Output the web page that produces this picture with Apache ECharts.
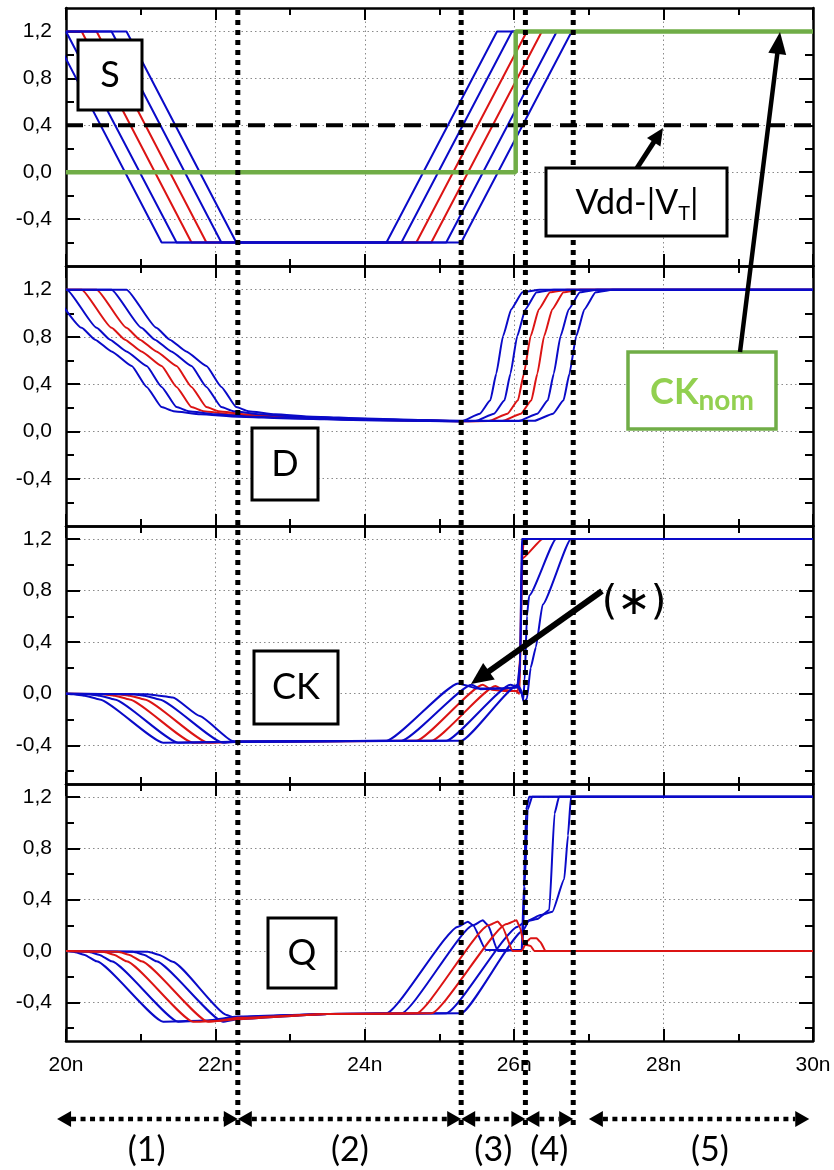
<!DOCTYPE html>
<html><head><meta charset="utf-8">
<script src="https://cdn.jsdelivr.net/npm/echarts@6/dist/echarts.min.js"></script>
<style>html,body{margin:0;padding:0;background:#fff}#c{width:834px;height:1170px}</style>
</head><body><div id="c"></div>
<script>
// ---------- data (time in ns, voltage in V) ----------
const S0 = [[19.81,1.2],[21.28,-0.6],[24.29,-0.6],[25.77,1.2],[30,1.2]];
const S1 = [[20,1.2],[20.01,1.2],[21.48,-0.6],[24.49,-0.6],[25.97,1.2],[30,1.2]];
const S2 = [[20,1.2],[20.21,1.2],[21.68,-0.6],[24.69,-0.6],[26.17,1.2],[30,1.2]];
const S3 = [[20,1.2],[20.41,1.2],[21.88,-0.6],[24.89,-0.6],[26.37,1.2],[30,1.2]];
const S4 = [[20,1.2],[20.61,1.2],[22.08,-0.6],[25.09,-0.6],[26.57,1.2],[30,1.2]];
const S5 = [[20,1.2],[20.81,1.2],[22.28,-0.6],[25.29,-0.6],[26.77,1.2],[30,1.2]];
const vddMinusVt = [[20,0.4],[30,0.4]];
const ckNom = [[20,0],[26.02,0],[26.02,1.2],[30,1.2]];

const D0 = [[19.81,1.2],[20.21,0.877],[20.39,0.777],[20.61,0.677],[20.88,0.554],[21.08,0.377],[21.28,0.206],[21.44,0.171],[21.8,0.145],[22.3,0.125],[23,0.11],[24,0.095],[25.29,0.085],[25.54,0.15],[25.68,0.263],[25.76,0.49],[25.85,0.806],[25.96,1.034],[26.11,1.177],[26.34,1.2],[30,1.2]];
const D1 = [[20,1.2],[20.01,1.2],[20.41,0.877],[20.59,0.777],[20.81,0.677],[21.08,0.554],[21.28,0.377],[21.48,0.206],[21.64,0.171],[22.0,0.145],[22.5,0.125],[23.2,0.11],[24,0.097],[25.29,0.086],[25.48,0.088],[25.73,0.15],[25.87,0.263],[25.95,0.49],[26.04,0.806],[26.15,1.034],[26.30,1.177],[26.53,1.2],[30,1.2]];
const D2 = [[20,1.2],[20.21,1.2],[20.61,0.877],[20.79,0.777],[21.01,0.677],[21.28,0.554],[21.48,0.377],[21.68,0.206],[21.84,0.171],[22.2,0.145],[22.7,0.125],[23.4,0.11],[24.2,0.097],[25.29,0.086],[25.66,0.088],[25.91,0.15],[26.05,0.263],[26.13,0.49],[26.22,0.806],[26.33,1.034],[26.48,1.177],[26.71,1.2],[30,1.2]];
const D3 = [[20,1.2],[20.41,1.2],[20.81,0.877],[20.99,0.777],[21.21,0.677],[21.48,0.554],[21.68,0.377],[21.88,0.206],[22.04,0.171],[22.4,0.145],[22.9,0.125],[23.6,0.11],[24.4,0.097],[25.29,0.087],[25.84,0.088],[26.09,0.15],[26.23,0.263],[26.31,0.49],[26.40,0.806],[26.51,1.034],[26.66,1.177],[26.89,1.2],[30,1.2]];
const D4 = [[20,1.2],[20.61,1.2],[21.01,0.877],[21.19,0.777],[21.41,0.677],[21.68,0.554],[21.88,0.377],[22.08,0.206],[22.24,0.171],[22.6,0.145],[23.1,0.125],[23.8,0.11],[24.6,0.097],[25.29,0.088],[26.06,0.089],[26.31,0.15],[26.45,0.263],[26.53,0.49],[26.62,0.806],[26.73,1.034],[26.88,1.177],[27.11,1.2],[30,1.2]];
const D5 = [[20,1.2],[20.81,1.2],[21.21,0.877],[21.39,0.777],[21.61,0.677],[21.88,0.554],[22.08,0.377],[22.28,0.206],[22.44,0.171],[22.8,0.145],[23.3,0.125],[24.0,0.11],[24.8,0.097],[25.29,0.09],[26.27,0.09],[26.52,0.15],[26.66,0.263],[26.74,0.49],[26.83,0.806],[26.94,1.034],[27.09,1.177],[27.32,1.2],[30,1.2]];

const CK0 = [[20,0],[20.1,-0.004],[20.25,-0.015],[20.45,-0.045],[21.30,-0.38],[22.3,-0.372],[24.29,-0.365],[25.25,0.08],[25.32,0.07],[25.5,0.04],[25.8,0.04],[26.05,0.05],[26.08,0.2],[26.1,1.2],[30,1.2]];
const CK1 = [[20,0],[20.3,-0.004],[20.45,-0.015],[20.65,-0.045],[21.50,-0.38],[22.3,-0.372],[24.49,-0.365],[25.43,0.07],[25.55,0.035],[25.8,0.04],[26.04,0.05],[26.08,0.25],[26.11,1.2],[30,1.2]];
const CK2 = [[20,0],[20.5,-0.004],[20.65,-0.015],[20.85,-0.045],[21.70,-0.38],[22.3,-0.372],[24.69,-0.365],[25.58,0.07],[25.7,0.03],[25.9,0.02],[26.05,0.02],[26.08,0.3],[26.1,1.0],[26.13,1.2],[30,1.2]];
const CK3 = [[20,0],[20.7,-0.004],[20.85,-0.015],[21.05,-0.045],[21.90,-0.38],[22.3,-0.372],[24.89,-0.365],[25.75,0.06],[25.85,0.03],[26.02,0.02],[26.07,0.0],[26.09,0.5],[26.11,1.05],[26.38,1.2],[30,1.2]];
const CK4 = [[20,0],[20.9,-0.004],[21.05,-0.015],[21.25,-0.045],[22.10,-0.38],[22.3,-0.372],[25.09,-0.365],[25.95,0.07],[26.05,0.05],[26.1,0.0],[26.12,-0.05],[26.14,0.1],[26.17,0.6],[26.2,0.76],[26.56,1.2],[30,1.2]];
const CK5 = [[20,0],[21.1,-0.004],[21.25,-0.015],[21.43,-0.03],[21.79,-0.173],[22.23,-0.366],[22.3,-0.37],[25.29,-0.365],[26.05,0.07],[26.1,0.02],[26.13,-0.07],[26.17,-0.04],[26.22,0.2],[26.29,0.36],[26.38,0.69],[26.76,1.2],[30,1.2]];

const Q0 = [[20,0],[20.1,-0.005],[20.25,-0.03],[20.41,-0.08],[21.30,-0.55],[21.9,-0.54],[22.3,-0.51],[23.5,-0.49],[24.29,-0.484],[25.25,0.19],[25.38,0.228],[25.45,0.2],[25.62,0.008],[26.1,0.01],[26.13,0.5],[26.16,1.1],[26.2,1.2],[30,1.2]];
const Q1 = [[20,0],[20.3,-0.005],[20.45,-0.03],[20.61,-0.08],[21.50,-0.55],[22.0,-0.54],[22.3,-0.515],[23.5,-0.49],[24.49,-0.484],[25.45,0.2],[25.58,0.24],[25.65,0.2],[25.78,0.0],[26.11,0.01],[26.14,0.5],[26.18,1.1],[26.24,1.2],[30,1.2]];
const Q2 = [[20,0],[20.5,-0.005],[20.65,-0.03],[20.81,-0.08],[21.70,-0.55],[22.0,-0.545],[22.3,-0.52],[23.5,-0.49],[24.69,-0.484],[25.66,0.2],[25.78,0.23],[25.84,0.19],[25.98,0.0],[26.1,0.0],[26.15,0.05],[26.22,0.04],[26.27,0.0],[30,0]];
const Q3 = [[20,0],[20.7,-0.005],[20.85,-0.03],[21.01,-0.08],[21.90,-0.55],[22.3,-0.53],[23.5,-0.49],[24.89,-0.484],[25.9,0.21],[26.03,0.24],[26.08,0.18],[26.13,0.05],[26.18,0.08],[26.22,0.1],[26.3,0.1],[26.35,0.07],[26.42,0.0],[30,0]];
const Q4 = [[20,0],[20.9,-0.005],[21.05,-0.03],[21.21,-0.08],[22.10,-0.55],[22.3,-0.53],[23.5,-0.49],[25.09,-0.484],[26.05,0.19],[26.15,0.23],[26.31,0.25],[26.47,0.32],[26.54,1.07],[26.6,1.2],[30,1.2]];
const Q5 = [[20,0],[21.1,-0.005],[21.25,-0.03],[21.43,-0.083],[22.15,-0.497],[22.24,-0.515],[22.3,-0.515],[23.5,-0.49],[25.29,-0.484],[26.12,0.16],[26.2,0.24],[26.35,0.28],[26.51,0.305],[26.67,0.56],[26.72,0.9],[26.76,1.2],[30,1.2]];

const panelNames = ['S','D','CK','Q'];
const panelCurves = [[S0,S1,S2,S3,S4,S5],[D0,D1,D2,D3,D4,D5],[CK0,CK1,CK2,CK3,CK4,CK5],[Q0,Q1,Q2,Q3,Q4,Q5]];
const curveKinds = ['blue','blue','red','red','blue','blue'];
const panelRanges = [[-0.8,1.4],[-0.8,1.4],[-0.7,1.3],[-0.7,1.3]];
const yMajorTicks = [-0.4,0,0.4,0.8,1.2];
const yMinorTicks = [-0.6,-0.2,0.2,0.6,1.0];
const xRange = [20,30];
const xStep = 2;
const phaseBounds = [22.3,25.29,26.15,26.79];
const phaseArrows = [[19.88,22.3],[22.3,25.29],[25.29,26.15],[26.15,26.79],[27.0,29.95]];
const phaseLabels = ['(1)','(2)','(3)','(4)','(5)'];
const phaseLabelAt = [21.08,23.8,25.72,26.47,28.62];

// ---------- styles ----------
const COL = {blue:'#0a0ac8', red:'#dc1414', green:'#70ad47', greenText:'#92d050', grid:'#8a8a8a'};
const grids = [{top:8,height:258},{top:266,height:260},{top:526,height:258},{top:784,height:257}];
const LEFT = 66, RIGHT = 21;
const ANN_FONT = 'Lato, "Open Sans", sans-serif';
const TICK_FONT = '"Liberation Sans", Arial, sans-serif';

const chart = echarts.init(document.getElementById('c'), null, {renderer:'canvas'});

const fmtY = v => (Math.abs(v) < 1e-9 ? 0 : v).toFixed(1).replace('.', ',');
const xAxes = [], yAxes = [], series = [];
grids.forEach((g, i) => {
  const base = {
    gridIndex: i, type: 'value', min: xRange[0], max: xRange[1], interval: xStep,
    axisLine: {show: true, onZero: false, lineStyle: {color: '#000', width: 2.5}},
    axisTick: {show: true, inside: true, length: 12, lineStyle: {color: '#000', width: 2}},
    minorTick: {show: true, splitNumber: 2, length: 7, lineStyle: {color: '#000', width: 2}},
  };
  xAxes.push(Object.assign({}, base, {
    position: 'bottom',
    axisLabel: {show: i === 3, formatter: v => v + 'n', fontSize: 21, fontFamily: TICK_FONT, color: '#000', margin: 14},
    splitLine: {show: true, lineStyle: {color: COL.grid, width: 1, type: [1.5, 3]}}
  }));
  xAxes.push(Object.assign({}, base, {position: 'top', axisLabel: {show: false}, splitLine: {show: false}}));
  const [mn, mx] = panelRanges[i];
  const yb = {gridIndex: i, type: 'value', min: mn, max: mx};
  yAxes.push(Object.assign({}, yb, {
    position: 'left',
    axisLine: {show: true, onZero: false, lineStyle: {color: '#000', width: 2.5}},
    axisTick: {show: true, inside: true, length: 14, customValues: yMajorTicks, lineStyle: {color: '#000', width: 2}},
    axisLabel: {show: true, customValues: yMajorTicks, formatter: fmtY, fontSize: 21, fontFamily: TICK_FONT, color: '#000', margin: 14},
    splitLine: {show: true, lineStyle: {color: COL.grid, width: 1, type: [1.5, 3]}}
  }));
  yAxes.push(Object.assign({}, yb, {
    position: 'left',
    axisLine: {show: false},
    axisTick: {show: true, inside: true, length: 8, customValues: yMinorTicks, lineStyle: {color: '#000', width: 2}},
    axisLabel: {show: false}, splitLine: {show: false}
  }));
  yAxes.push(Object.assign({}, yb, {
    position: 'right',
    axisLine: {show: true, onZero: false, lineStyle: {color: '#000', width: 2.5}},
    axisTick: {show: true, inside: true, length: 14, customValues: yMajorTicks, lineStyle: {color: '#000', width: 2}},
    axisLabel: {show: false}, splitLine: {show: false}
  }));
  yAxes.push(Object.assign({}, yb, {
    position: 'right',
    axisLine: {show: false},
    axisTick: {show: true, inside: true, length: 8, customValues: yMinorTicks, lineStyle: {color: '#000', width: 2}},
    axisLabel: {show: false}, splitLine: {show: false}
  }));
  panelCurves[i].forEach((data, k) => {
    // in the Q panel the red traces stay low and sit on top; elsewhere the blue traces are drawn last
    const onTop = (i === 3) ? curveKinds[k] === 'red' : curveKinds[k] === 'blue';
    series.push({
      type: 'line', name: panelNames[i] + k, xAxisIndex: 2 * i, yAxisIndex: 4 * i, data,
      showSymbol: false, symbol: 'none', silent: true,
      smooth: i === 0 ? false : 0.15, smoothMonotone: 'x',
      lineStyle: {color: COL[curveKinds[k]], width: 2},
      z: onTop ? 4 : 3
    });
  });
});
series.push({type: 'line', name: 'Vdd-|VT|', xAxisIndex: 0, yAxisIndex: 0, data: vddMinusVt, showSymbol: false, symbol: 'none', silent: true,
  lineStyle: {color: '#000', width: 4, type: [17, 9]}, z: 6});
series.push({type: 'line', name: 'CKnom', xAxisIndex: 0, yAxisIndex: 0, data: ckNom, showSymbol: false, symbol: 'none', silent: true,
  lineStyle: {color: COL.green, width: 4.5}, z: 7});

chart.setOption({
  animation: false,
  backgroundColor: '#fff',
  grid: grids.map(g => ({left: LEFT, right: RIGHT, top: g.top, height: g.height, show: false})),
  xAxis: xAxes, yAxis: yAxes, series
});

// ---------- annotations ----------
const px = v => chart.convertToPixel({xAxisIndex: 6}, v);
const gfx = [];
function arrow(x1, y1, x2, y2, w, head, hw, z) {
  const dx = x2 - x1, dy = y2 - y1, L = Math.hypot(dx, dy), ux = dx / L, uy = dy / L;
  const bx = x2 - ux * head, by = y2 - uy * head;
  gfx.push({type: 'line', z: z, shape: {x1, y1, x2: bx + ux * 1, y2: by + uy * 1}, style: {stroke: '#000', lineWidth: w}});
  gfx.push({type: 'polygon', z: z, shape: {points: [[x2, y2], [bx - uy * hw, by + ux * hw], [bx + uy * hw, by - ux * hw]]}, style: {fill: '#000'}});
}
function textEl(x, y, text, size, family) {
  return {type: 'text', z: 120, style: {text, x, y, font: size + 'px ' + (family || ANN_FONT), fill: '#000',
    align: 'center', verticalAlign: 'middle', textAlign: 'center', textVerticalAlign: 'middle'}};
}
function box(x, y, w, h, text, size, stroke, strokeW) {
  gfx.push({type: 'rect', z: 110, shape: {x, y, width: w, height: h}, style: {fill: '#fff', stroke: stroke || '#000', lineWidth: strokeW || 3}});
  if (text) gfx.push(textEl(x + w / 2, y + h / 2, text, size));
}
// vertical phase boundaries (dotted black)
phaseBounds.forEach(b => {
  const x = px(b);
  gfx.push({type: 'line', z: 50, shape: {x1: x, y1: 10, x2: x, y2: 1130}, style: {stroke: '#000', lineWidth: 5, lineDash: [5, 5]}});
});
// phase arrows along the bottom
const AY = 1119;
phaseArrows.forEach(([a, b], i) => {
  const x1 = px(a), x2 = px(b), hl = 14, hw = 8;
  gfx.push({type: 'line', z: 60, shape: {x1: x1 + hl, y1: AY, x2: x2 - hl, y2: AY}, style: {stroke: '#000', lineWidth: 4.5, lineDash: [5, 4.5]}});
  gfx.push({type: 'polygon', z: 60, shape: {points: [[x1, AY], [x1 + hl, AY - hw], [x1 + hl, AY + hw]]}, style: {fill: '#000'}});
  gfx.push({type: 'polygon', z: 60, shape: {points: [[x2, AY], [x2 - hl, AY - hw], [x2 - hl, AY + hw]]}, style: {fill: '#000'}});
  gfx.push(textEl(px(phaseLabelAt[i]), 1150, phaseLabels[i], 34));
});
// panel name boxes
box(78, 40, 64, 70, 'S', 36);
box(252, 428, 66, 72, 'D', 36);
box(254, 651, 84, 73, 'CK', 36);
box(268, 918, 68, 70, 'Q', 36);
// Vdd-|VT| box
box(546, 168, 181, 68, null);
gfx.push({type: 'text', z: 120, style: {text: '{a|Vdd-|V}{s|T}{a||}', x: 637, y: 203, align: 'center', verticalAlign: 'middle',
  textAlign: 'center', textVerticalAlign: 'middle',
  rich: {a: {fontSize: 34, fontFamily: ANN_FONT, fill: '#000', color: '#000', lineHeight: 42, verticalAlign: 'middle'},
         s: {fontSize: 20, fontFamily: ANN_FONT, fill: '#000', color: '#000', lineHeight: 18, verticalAlign: 'bottom'}}}});
// CK_nom box
box(628, 352, 148, 77, null, 0, COL.green, 3.5);
gfx.push({type: 'text', z: 120, style: {text: '{a|CK}{s|nom}', x: 702, y: 392, align: 'center', verticalAlign: 'middle',
  textAlign: 'center', textVerticalAlign: 'middle',
  rich: {a: {fontSize: 36, fontWeight: 'bold', fontFamily: ANN_FONT, fill: COL.greenText, color: COL.greenText, lineHeight: 46, verticalAlign: 'middle'},
         s: {fontSize: 28, fontWeight: 'bold', fontFamily: ANN_FONT, fill: COL.greenText, color: COL.greenText, lineHeight: 26, verticalAlign: 'bottom'}}}});
// (*) label
gfx.push(textEl(634, 604, '(\u2217)', 40, '"DejaVu Sans", sans-serif'));
// arrows
arrow(637, 168, 663, 128, 5, 17, 8, 130);
arrow(740, 352, 780, 32, 4.5, 22, 9, 130);
arrow(602, 591, 471, 684, 6, 22, 10, 130);

chart.setOption({graphic: {elements: gfx}});
</script>
</body></html>
